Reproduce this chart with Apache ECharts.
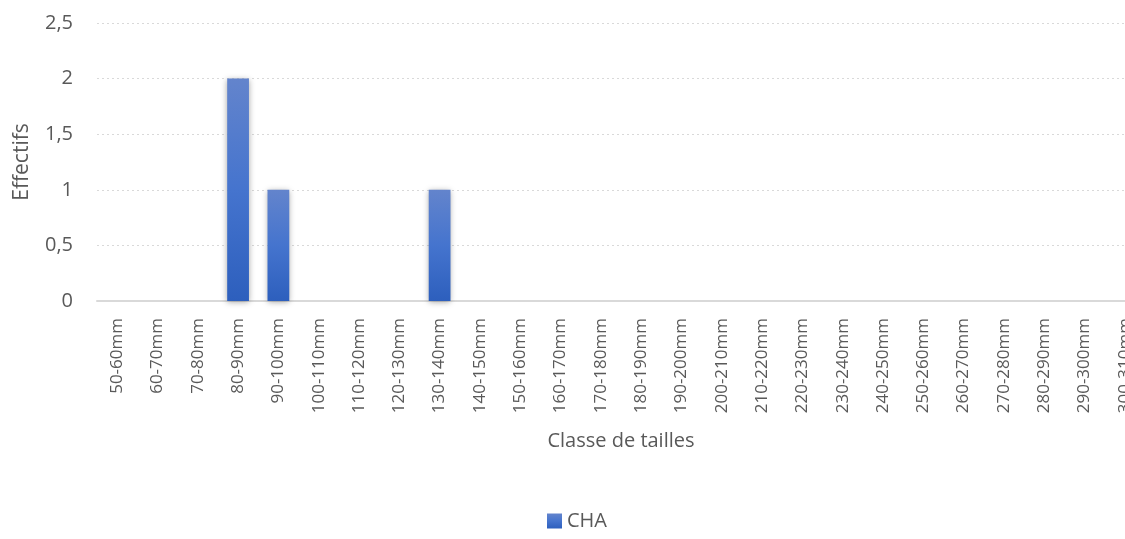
<!DOCTYPE html>
<html>
<head>
<meta charset="utf-8">
<script src="https://cdn.jsdelivr.net/npm/echarts@6/dist/echarts.min.js"></script>
<style>
  html, body { margin: 0; padding: 0; background: #ffffff; }
  #chart { width: 1125px; height: 539px; }
</style>
</head>
<body>
<div id="chart"></div>
<script>
// Size classes (10 mm bins)
const categories = [
  '50-60mm', '60-70mm', '70-80mm', '80-90mm', '90-100mm', '100-110mm',
  '110-120mm', '120-130mm', '130-140mm', '140-150mm', '150-160mm', '160-170mm',
  '170-180mm', '180-190mm', '190-200mm', '200-210mm', '210-220mm', '220-230mm',
  '230-240mm', '240-250mm', '250-260mm', '260-270mm', '270-280mm', '280-290mm',
  '290-300mm', '300-310mm'
];
// Counts per class
const chaValues = [0, 0, 0, 2, 1, 0, 0, 0, 1, 0, 0, 0, 0, 0, 0, 0, 0, 0, 0, 0, 0, 0, 0, 0, 0, 0];
const yTicks = { min: 0, max: 2.5, interval: 0.5 };

const chart = echarts.init(document.getElementById('chart'), null, { renderer: 'canvas' });
const font = '"Open Sans", "Liberation Sans", sans-serif';
const grey = '#595959';

chart.setOption({
  animation: false,
  textStyle: { fontFamily: font },
  // the last class runs past the right edge of the canvas
  grid: {
    left: 97, top: 23, width: 1048, height: 278,
    containLabel: false, outerBoundsMode: 'none'
  },
  xAxis: {
    type: 'category',
    data: categories,
    name: 'Classe de tailles',
    nameLocation: 'middle',
    nameGap: 130,
    nameTextStyle: { color: grey, fontSize: 20, fontFamily: font },
    axisLine: { lineStyle: { color: '#d9d9d9', width: 2 } },
    axisTick: { show: false },
    axisLabel: {
      rotate: 90, interval: 0, margin: 17,
      color: grey, fontSize: 17, fontFamily: font
    }
  },
  yAxis: {
    type: 'value',
    min: yTicks.min, max: yTicks.max, interval: yTicks.interval,
    name: 'Effectifs',
    nameLocation: 'middle',
    nameGap: 64,
    nameTextStyle: { color: grey, fontSize: 21, fontFamily: font },
    axisLine: { show: false },
    axisTick: { show: false },
    axisLabel: {
      margin: 24, color: grey, fontSize: 20, fontFamily: font,
      formatter: v => String(v).replace('.', ',')
    },
    splitLine: { lineStyle: { color: '#d9d9d9', type: [2, 3], width: 1 } }
  },
  legend: {
    bottom: 3, left: 542,
    itemWidth: 15, itemHeight: 15, itemGap: 6,
    icon: 'rect',
    textStyle: { color: grey, fontSize: 20, fontFamily: font },
    data: ['CHA']
  },
  series: [{
    name: 'CHA',
    type: 'bar',
    data: chaValues,
    barCategoryGap: '46%',
    itemStyle: {
      color: new echarts.graphic.LinearGradient(0, 0, 0, 1, [
        { offset: 0, color: '#6384cc' },
        { offset: 0.5, color: '#4574ce' },
        { offset: 1, color: '#2d5fbd' }
      ]),
      shadowColor: 'rgba(0,0,0,0.35)',
      shadowBlur: 6,
      shadowOffsetY: 1
    }
  }]
});
</script>
</body>
</html>
